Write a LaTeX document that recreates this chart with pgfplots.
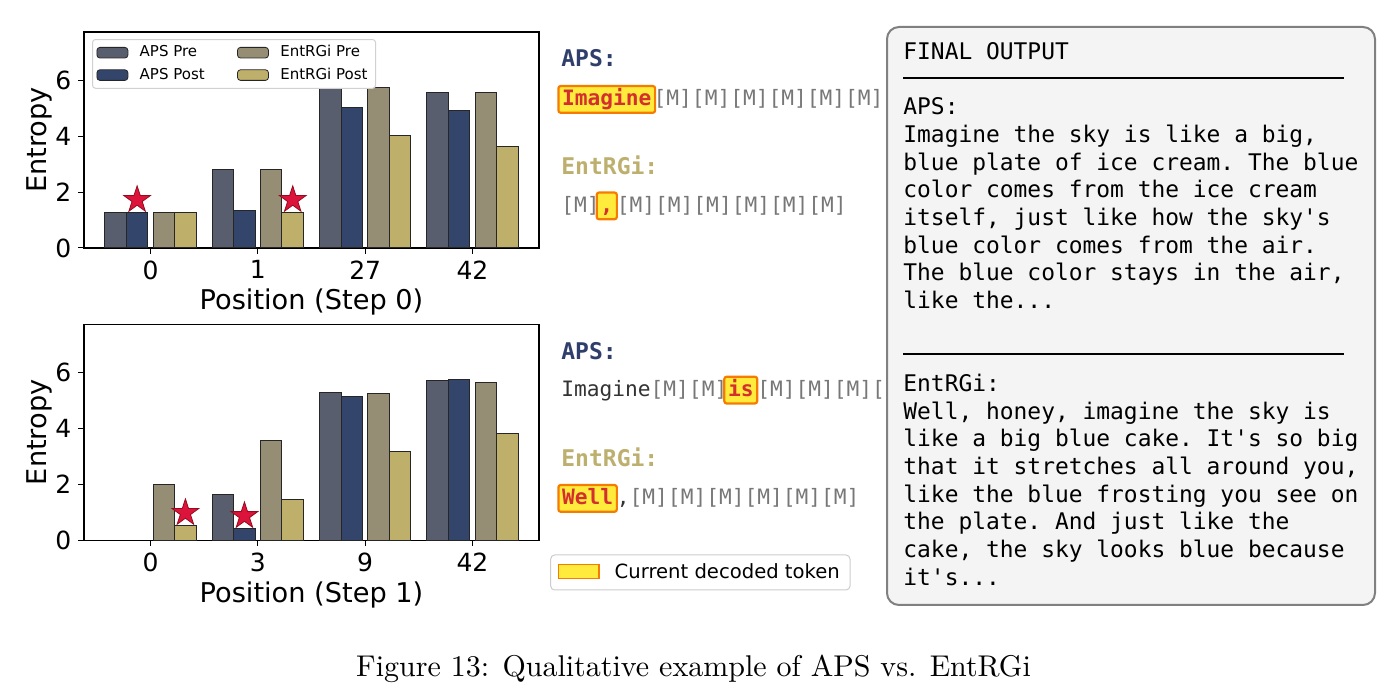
\documentclass[border=0pt]{standalone}
\usepackage{fontspec}
\usepackage{pgfplots}
\usepackage{pgfplotstable}
\pgfplotsset{compat=1.18}

\newfontfamily\dvs{DejaVu Sans}
\newfontfamily\dvsm{DejaVu Sans Mono}
\newcommand\tokfont{\dvsm\fontsize{10.6}{12}\selectfont}
\newcommand\headfont{\dvsm\bfseries\fontsize{11.5}{13}\selectfont}
\newcommand\boxfont{\dvsm\fontsize{11.45}{13}\selectfont\frenchspacing}
\newcommand\labfont{\dvs\fontsize{13.6}{16}\selectfont}

\definecolor{apspre}{RGB}{89,94,110}
\definecolor{apspost}{RGB}{52,69,108}
\definecolor{entpre}{RGB}{150,142,116}
\definecolor{entpost}{RGB}{190,175,106}
\definecolor{apshead}{RGB}{47,62,106}
\definecolor{enthead}{RGB}{189,175,110}
\definecolor{starred}{RGB}{220,20,60}
\definecolor{staredge}{RGB}{150,10,30}
\definecolor{hlfill}{RGB}{255,235,59}
\definecolor{hledge}{RGB}{245,124,0}
\definecolor{hltext}{RGB}{211,47,47}
\definecolor{maskgray}{RGB}{119,119,119}
\definecolor{tokdark}{RGB}{51,51,51}
\definecolor{boxfill}{RGB}{244,244,244}
\definecolor{boxedge}{RGB}{128,128,128}

% filled five-pointed star marker
\pgfdeclareplotmark{fstar}{%
  \pgfpathmoveto{\pgfpointpolar{90}{\pgfplotmarksize}}%
  \pgfpathlineto{\pgfpointpolar{126}{0.382\pgfplotmarksize}}%
  \pgfpathlineto{\pgfpointpolar{162}{\pgfplotmarksize}}%
  \pgfpathlineto{\pgfpointpolar{198}{0.382\pgfplotmarksize}}%
  \pgfpathlineto{\pgfpointpolar{234}{\pgfplotmarksize}}%
  \pgfpathlineto{\pgfpointpolar{270}{0.382\pgfplotmarksize}}%
  \pgfpathlineto{\pgfpointpolar{306}{\pgfplotmarksize}}%
  \pgfpathlineto{\pgfpointpolar{342}{0.382\pgfplotmarksize}}%
  \pgfpathlineto{\pgfpointpolar{18}{\pgfplotmarksize}}%
  \pgfpathlineto{\pgfpointpolar{54}{0.382\pgfplotmarksize}}%
  \pgfpathclose
  \pgfusepathqfillstroke}

% entropy per position, before and after the update
\pgfplotstableread{
pos apspre apspost entpre entpost
0 1.27 1.27 1.27 1.27
1 2.82 1.35 2.82 1.27
2 5.72 5.02 5.73 4.02
3 5.55 4.90 5.55 3.63
}\stepzero
\pgfplotstableread{
pos apspre apspost entpre entpost
0 nan nan 2.01 0.53
1 1.63 0.42 3.55 1.47
2 5.29 5.14 5.26 3.18
3 5.72 5.75 5.65 3.83
}\stepone
% decoded positions
\pgfplotstableread{
x y
-0.125 1.72
1.325 1.72
}\starszero
\pgfplotstableread{
x y
0.325 0.98
0.875 0.87
}\starsone

\pgfplotsset{
  entax/.style={
    scale only axis, width=227.5pt, height=108pt, anchor=south west,
    xmin=-0.62, xmax=3.62, ymin=0, ymax=7.72,
    xtick={0,1,2,3}, ytick={0,2,4,6},
    tick pos=left, tick align=outside, major tick length=2.8pt,
    tick style={black, line width=0.5pt},
    axis line style={black, line width=0.6pt},
    /pgf/number format/assume math mode=true,
    tick label style={font=\dvs\fontsize{12.5}{15}\selectfont, black},
    every axis y label/.style={at={(axis description cs:-0.082,0.5)}, rotate=90, anchor=base, font=\labfont},
    every axis x label/.style={at={(axis description cs:0.5,-0.287)}, anchor=base, font=\labfont},
    ylabel={Entropy},
  },
  barleg/.style={legend image code/.code={%
    \draw[##1, line width=0.4pt] (0pt,-2.65pt) rectangle (15.5pt,2.65pt);}},
  bars/.style={ybar, bar width=0.2, draw=black!85, line width=0.5pt, barleg},
  stars/.style={only marks, mark=fstar, mark size=7pt,
    mark options={fill=starred, draw=staredge, line width=0.4pt}, forget plot},
}

\tikzset{
  hl/.style={anchor=base west, fill=hlfill, draw=hledge, line width=1.1pt,
    rounded corners=1.2pt, inner xsep=1.85pt, inner ysep=0pt,
    text height=10pt, text depth=3.4pt, text=hltext, font=\tokfont\bfseries},
  tok/.style={anchor=base west, inner sep=0pt, font=\tokfont, text=#1},
  bl/.style={anchor=base west, inner sep=0pt, font=\boxfont},
}

\begin{document}
\begin{tikzpicture}[x=0.5pt, y=0.5pt]
\path[use as bounding box] (0,0) rectangle (1389,-700);

% ---- step 0 ----
\begin{axis}[entax, at={(42pt,-124pt)},
  xticklabels={0,1,27,42}, xlabel={Position (Step 0)},
  transpose legend, legend columns=2, legend cell align=left,
  legend style={at={(0.0176,0.9676)}, anchor=north west,
    font=\dvs\fontsize{7.5}{9}\selectfont,
    draw=black!18, line width=0.5pt, rounded corners=1.5pt, fill=white,
    inner xsep=2pt, inner ysep=1pt, row sep=0pt,
    /tikz/every odd column/.append style={column sep=3.7pt},
    /tikz/every even column/.append style={column sep=14.2pt}},
]
\addplot[bars, bar shift=-0.325, fill=apspre] table[x=pos,y=apspre]{\stepzero};
\addlegendentry{APS Pre}
\addplot[bars, bar shift=-0.125, fill=apspost] table[x=pos,y=apspost]{\stepzero};
\addlegendentry{APS Post}
\addplot[bars, bar shift=0.125, fill=entpre] table[x=pos,y=entpre]{\stepzero};
\addlegendentry{EntRGi Pre}
\addplot[bars, bar shift=0.325, fill=entpost] table[x=pos,y=entpost]{\stepzero};
\addlegendentry{EntRGi Post}
\addplot[stars] table[x=x,y=y]{\starszero};
\end{axis}

% ---- step 1 ----
\begin{axis}[entax, at={(42pt,-270.15pt)},
  xticklabels={0,3,9,42}, xlabel={Position (Step 1)}]
\addplot[bars, bar shift=-0.325, fill=apspre] table[x=pos,y=apspre]{\stepone};
\addplot[bars, bar shift=-0.125, fill=apspost] table[x=pos,y=apspost]{\stepone};
\addplot[bars, bar shift=0.125, fill=entpre] table[x=pos,y=entpre]{\stepone};
\addplot[bars, bar shift=0.325, fill=entpost] table[x=pos,y=entpost]{\stepone};
\addplot[stars] table[x=x,y=y]{\starsone};
\end{axis}

% ---- decoding traces ----
\node[anchor=base west, inner sep=0pt, font=\headfont, text=apshead] at (561,-66.7) {APS:};
\node[hl] at (557.3,-106) {Imagine};
\node[tok=maskgray] at (653.3,-106) {[M][M][M][M][M][M]};

\node[anchor=base west, inner sep=0pt, font=\headfont, text=enthead] at (561,-175) {EntRGi:};
\node[tok=maskgray] at (561,-212.5) {[M]};
\node[hl] at (595.6,-212.5) {,};
\node[tok=maskgray] at (616.5,-212.5) {[M][M][M][M][M][M]};

\node[anchor=base west, inner sep=0pt, font=\headfont, text=apshead] at (561,-359.3) {APS:};
\node[tok=tokdark] at (561,-396.7) {Imagine};
\node[tok=maskgray] at (650.3,-396.7) {[M][M]};
\node[hl] at (723.2,-396.7) {is};
\node[tok=maskgray] at (756.9,-396.7) {[M][M][M][};

\node[anchor=base west, inner sep=0pt, font=\headfont, text=enthead] at (561,-466.7) {EntRGi:};
\node[hl] at (557.3,-505) {Well};
\node[tok=tokdark] at (616.5,-505) {,};
\node[tok=maskgray] at (629.3,-505) {[M][M][M][M][M][M]};

% key for the highlight
\draw[black!20, fill=white, rounded corners=2pt, line width=0.5pt] (550.7,-555) rectangle (850,-590);
\draw[hledge, fill=hlfill, line width=0.6pt] (558.3,-564.3) rectangle (599,-578.3);
\node[anchor=base west, inner sep=0pt, font=\dvs\fontsize{9.8}{12}\selectfont] at (614.3,-578.3) {Current decoded token};

% ---- final output panel ----
\draw[boxedge, fill=boxfill, line width=1pt, rounded corners=6pt] (887,-27) rectangle (1375,-605);
\draw[black, line width=0.9pt] (903,-78) -- (1344,-78);
\draw[black, line width=0.9pt] (903,-354) -- (1344,-354);
\foreach \k/\t in {
  0/{FINAL OUTPUT},
  2/{APS:},
  3/{Imagine the sky is like a big,},
  4/{blue plate of ice cream. The blue},
  5/{color comes from the ice cream},
  6/{itself, just like how the sky\textquotesingle s},
  7/{blue color comes from the air.},
  8/{The blue color stays in the air,},
  9/{like the...},
  12/{EntRGi:},
  13/{Well, honey, imagine the sky is},
  14/{like a big blue cake. It\textquotesingle s so big},
  15/{that it stretches all around you,},
  16/{like the blue frosting you see on},
  17/{the plate. And just like the},
  18/{cake, the sky looks blue because},
  19/{it\textquotesingle s...}}
  \node[bl] at (903,{-(59.7+27.65*\k)}) {\t};

% ---- caption ----
\node[anchor=base, inner sep=0pt, scale=1.5] at (693.5,-676.6)
  {\fontsize{10}{12}\selectfont Figure 13: Qualitative example of APS vs. EntRGi};
\end{tikzpicture}
\end{document}
